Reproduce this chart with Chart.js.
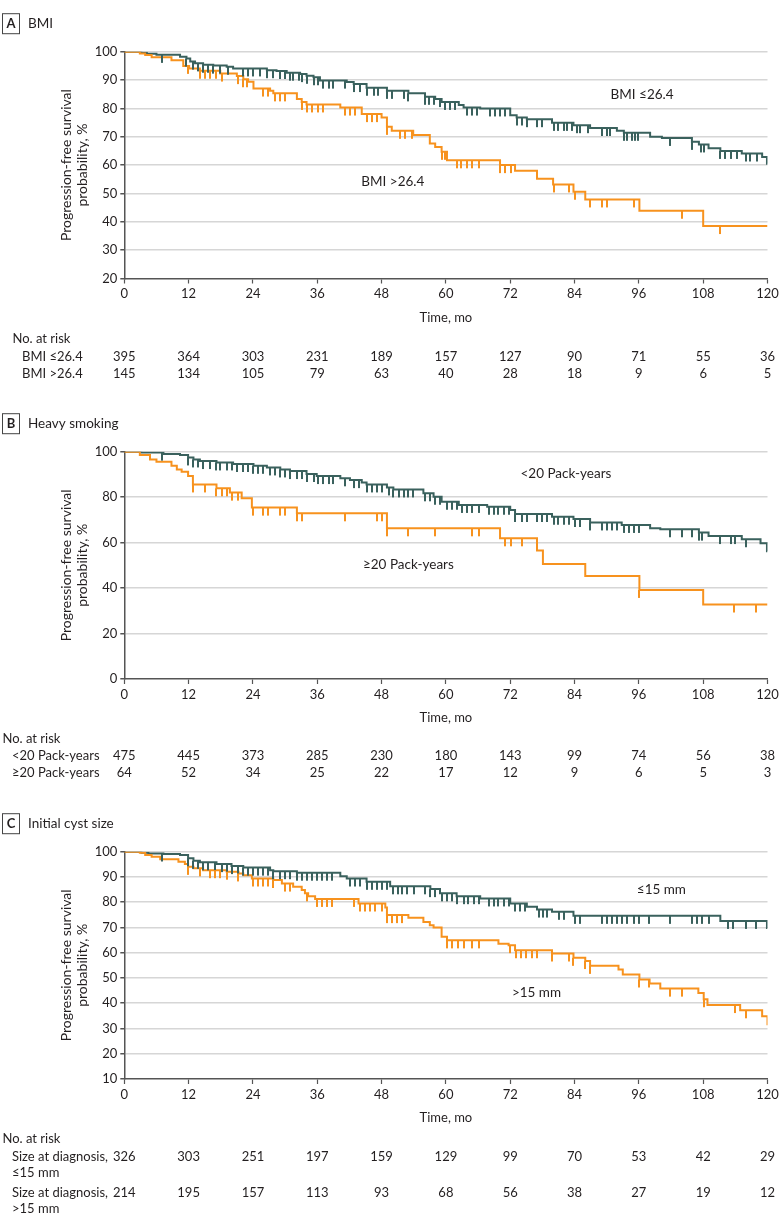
<!DOCTYPE html>
<html>
<head>
<meta charset="utf-8">
<title>Progression-free survival</title>
<script src="https://cdn.jsdelivr.net/npm/chart.js@4.4.1/dist/chart.umd.min.js"></script>
<style>
  body { margin: 0; background: #fff; }
  #wrap { position: relative; width: 783px; height: 1227px; }
  canvas { position: absolute; left: 0; }
</style>
</head>
<body>
<div id="wrap">
  <canvas id="chartA" width="783" height="395" style="top:0px"></canvas>
  <canvas id="chartB" width="783" height="390" style="top:400px"></canvas>
  <canvas id="chartC" width="783" height="437" style="top:790px"></canvas>
</div>
<script>
// months on the x axis, also the columns of the at-risk tables
var timeTicks = [0, 12, 24, 36, 48, 60, 72, 84, 96, 108, 120];

// ---- A: BMI ----  [month, survival %]
var bmiLowSteps = [[0,100],[3.2,99.6],[4.2,99.3],[6,98.9],[10.4,98.2],[11.6,97.6],[12.3,96.5],[13.2,95.9],[14.7,95.4],[16.6,95.1],[19.1,94.7],[20.3,94.1],[26.6,93.5],[28.4,93.2],[30.3,92.6],[32.8,92.1],[34,91.5],[35.3,91],[36.5,89.8],[41.5,89.3],[42.8,88.6],[45.2,87.3],[49,86.2],[53,85.3],[56.1,84.1],[58,83.3],[59.2,82.3],[62.4,81.2],[63.3,80.3],[66.4,80],[72,77.6],[73.2,76.8],[75.1,76.2],[79.8,74.9],[83.8,74.1],[86.9,73.1],[91.9,72.1],[93.2,71.4],[98.1,70],[100.3,69.6],[105.9,68.2],[107.2,67.3],[109,65.9],[111.2,65],[115.2,64.1],[119,62.9],[119.9,60.5],[120,60.5]];
var bmiHighSteps = [[0,100],[2.9,99.4],[3.9,98.8],[5.1,98],[8.8,97],[11,95],[12.1,94.1],[14.1,93.3],[17.9,92.3],[21,91.4],[22.2,90.3],[23.1,89.4],[24.1,87],[27.2,86.2],[27.8,85.3],[32.2,83.3],[33.1,82.3],[34,81.4],[40.3,80.3],[44.3,78],[48,76.8],[49,73.5],[49.9,72.1],[53.9,70.6],[57,67.6],[58,66.4],[59.2,64.7],[60.2,61.7],[70.1,60],[72.9,58],[77,55.2],[80,53.2],[83.8,50.6],[86,47.9],[96.1,43.9],[108,38.5],[120,38.5]];
var bmiLowCensor = [7.1,11.6,12.9,13.8,14.7,15.7,16.6,17.9,19.4,22.2,23.1,24.1,25.3,26.6,27.8,29.1,30,30.9,31.5,32.5,33.1,34,35.3,36.2,37.1,38.1,39,41.2,42.8,44,45.2,46.5,47.4,49,49.9,52.1,53,56.1,56.9,57.7,58.9,59.9,60.8,61.7,63.9,64.8,65.8,68.3,69.2,70.1,71.1,73.2,74.2,75.1,77,77.9,80.1,81,82,82.6,83.5,84.5,85.1,86.6,89.1,90.1,90.7,93.2,93.8,94.7,95.3,95.9,101.9,105.9,107.5,108.1,111.2,112.1,113.1,114.3,115.9,116.8,118.1];
var bmiHighCensor = [11.9,14.1,15.1,16,17.2,18.2,21.3,22.2,22.8,25.9,26.9,28.1,29.1,30,33.1,34,35,36.2,37.1,41.2,42.1,43.1,45.2,46.2,47.1,49,51.5,52.4,53.6,59.2,59.9,62,62.9,63.9,64.8,66.1,70.1,71.1,72.1,80.1,82.9,84,86.9,89.1,90.1,95.1,104.1,111.1];
var bmiLowRisk = [395, 364, 303, 231, 189, 157, 127, 90, 71, 55, 36];
var bmiHighRisk = [145, 134, 105, 79, 63, 40, 28, 18, 9, 6, 5];

// ---- B: Heavy smoking ----
var packLowSteps = [[0,100],[3.2,99.6],[7.3,99],[10.4,98.5],[11.9,97.5],[12.9,96.6],[14.1,95.9],[17.2,95.3],[20.3,94.6],[24.1,93.8],[26.6,93.1],[29.1,92.2],[30.9,91.5],[34,90.2],[35.9,89.3],[40.3,88.3],[42.1,87.5],[44.3,86.4],[45.2,85.6],[49,84.3],[50.2,83.4],[55.8,81.7],[57.7,80.2],[59.2,78],[62.4,76.6],[67.7,75.8],[72,74.4],[72.9,72.6],[79.8,71.4],[83.8,70.4],[86.9,68.9],[92.8,67.8],[98.1,66.3],[100,65.9],[107.2,64.4],[109,62.9],[115.2,61.5],[118.7,59.7],[119.9,56.2],[120,56.2]];
var packHighSteps = [[0,100],[2.9,98.5],[4.8,96.6],[6,95.6],[8.8,93.8],[9.8,92.2],[10.7,91.2],[11.9,89.3],[12.8,85.6],[17.2,83.9],[19.7,82],[21.9,79.5],[23.8,75.4],[32.2,72.9],[49,66.3],[70.1,61.9],[77,56.5],[78.1,50.6],[86,45.3],[96.1,39.2],[108,32.8],[120,32.8]];
var packLowCensor = [7.1,11.9,12.9,13.8,14.7,16,17.2,17.9,19.1,20,21,22.2,23.1,24.1,25,25.9,27.2,28.1,29.1,30,30.9,32.2,33.1,34,35.3,36.2,37.1,38.1,39,41.2,42.8,43.7,45.2,46.2,47.1,48,49.3,50.2,51.2,52.1,53,53.9,56.1,57,58,58.9,60.2,61.1,62,63,63.9,64.8,66.1,68,68.9,69.8,70.8,71.7,72.9,74.2,75.1,77,77.9,78.8,80.1,81,82,82.9,84.1,85.1,86.9,89.1,90.1,91,91.9,93.2,94.1,95,96,101.9,104.1,106,107.2,107.8,111.2,113.1,114,115.9];
var packHighCensor = [12.9,15.1,17.2,18.2,19.1,20,21.3,24.1,25.9,26.9,29.1,30,32.2,33.1,41.2,47.1,48,49,53,58,64.8,66.1,71.1,72.1,74.2,96.1,113.8,117.8];
var packLowRisk = [475, 445, 373, 285, 230, 180, 143, 99, 74, 56, 38];
var packHighRisk = [64, 52, 34, 25, 22, 17, 12, 9, 6, 5, 3];

// ---- C: Initial cyst size ----
var cystSmallSteps = [[0,100],[3.2,99.6],[4.5,99.3],[7.3,99.1],[10.4,98.7],[11.9,97.4],[12.9,96.4],[14.1,95.8],[17.2,95.1],[20,94.3],[22.2,93.7],[27.2,92.7],[27.8,92.3],[32.2,91.7],[40.3,90.3],[41.5,89.4],[45.2,88.1],[49.6,86.3],[57.1,85.2],[58.9,83.5],[62,82.4],[66.4,81.5],[72,79.5],[75.1,78.2],[77,77.1],[79.8,76.2],[83.8,74.6],[111.2,72.6],[119.9,69.8],[120,69.8]];
var cystLargeSteps = [[0,100],[2.9,99.6],[3.9,98.7],[5.1,98],[6.7,97],[10.1,96],[11.3,95.1],[11.9,94],[12.9,93.4],[14.7,92.7],[19.1,92.1],[21.3,91.4],[22.2,90.7],[23.8,89.4],[27.8,88.8],[29.4,87.4],[31.5,86.1],[33.1,84.8],[33.7,83.5],[34.3,82.4],[35.6,81.3],[43.7,79.5],[48.7,77.9],[49,74.9],[53,73.8],[55.8,72.2],[57,70.9],[57.7,70],[59.2,66.3],[60.2,64.9],[69.8,63.6],[71.7,63],[72.9,61],[79.8,59.7],[83.8,58],[86,56.7],[86.9,54.8],[92.2,53.4],[93,51.4],[96.1,49.4],[98,47.8],[100,45.8],[107.1,44.1],[108.1,41.6],[108.8,39.3],[114.9,37.2],[119,34.8],[120,31.3]];
var cystSmallCensor = [7.1,11.9,12.9,13.8,14.7,15.7,16.9,18.2,19.1,20,21.3,22.2,23.1,24.1,25,25.9,26.9,27.8,29.1,30,30.9,32.2,33.1,34,35,35.9,36.8,37.8,38.7,42.1,43.1,44,45.2,46.2,47.1,48,49,50.2,51.1,51.8,52.7,54,56.1,57.1,58,59.2,60.2,61.1,62,63.3,64.2,65.2,66.1,68,68.9,69.8,70.8,71.7,72.9,73.9,74.8,77.3,78.2,78.8,81.1,82,84.1,85,89.1,90.1,91,91.9,92.8,93.8,95,96,97.8,101.9,105.9,106.9,107.8,109.1,112.7,113.6,115.9,117.9];
var cystLargeCensor = [11.9,14.1,16,16.9,17.9,19.1,21.3,24.1,25,25.9,26.9,27.8,30,30.9,34,35.9,36.8,37.8,38.7,42.8,44,44.9,45.9,46.8,48,49,49.9,50.8,51.8,60.2,61.1,62.2,63.3,64.8,66.1,72,73.1,74,74.9,76,77,79.8,82.9,83.8,86,86.9,96.1,97.9,101.9,104,108.1,114,116];
var cystSmallRisk = [326, 303, 251, 197, 159, 129, 99, 70, 53, 42, 29];
var cystLargeRisk = [214, 195, 157, 113, 93, 68, 56, 38, 27, 19, 12];

var TEAL = '#3a615d';
var ORANGE = '#f7921e';
var INK = '#231f20';
var FONT = 'Lato, "Open Sans", sans-serif';

// survival value of a step curve at time t
function survAt(steps, t) {
  var v = steps[0][1];
  for (var i = 0; i < steps.length; i++) {
    if (steps[i][0] <= t) v = steps[i][1];
  }
  return v;
}

// censor tick hanging below the point
function tickMark(color) {
  var cv = document.createElement('canvas');
  cv.width = 2;
  cv.height = 18;
  var g = cv.getContext('2d');
  g.fillStyle = color;
  g.fillRect(0, 9, 2, 8);
  return cv;
}

var panelText = {
  id: 'panelText',
  afterDraw: function(chart, args, o) {
    var c = chart.ctx, area = chart.chartArea;
    var xs = chart.scales.x, ys = chart.scales.y;
    c.save();
    c.fillStyle = INK;
    c.textBaseline = 'middle';

    // panel letter + heading
    var hy = area.top - 28;
    c.strokeStyle = '#444';
    c.lineWidth = 1;
    c.strokeRect(2.5, hy - 10, 17, 20);
    c.font = 'bold 13px ' + FONT;
    c.textAlign = 'center';
    c.fillText(o.letter, 11, hy + 0.5);
    c.font = '13.5px ' + FONT;
    c.textAlign = 'left';
    c.fillText(o.title, 28, hy);

    // y axis title
    var cy = (area.top + area.bottom) / 2;
    c.save();
    c.translate(66, cy);
    c.rotate(-Math.PI / 2);
    c.textAlign = 'center';
    c.font = '14px ' + FONT;
    c.fillText('Progression-free survival', 0, 0);
    c.fillText('probability, %', 0, 16);
    c.restore();

    // curve labels
    c.font = '13.5px ' + FONT;
    c.textAlign = 'center';
    o.labels.forEach(function(l) {
      c.fillText(l.text, xs.getPixelForValue(l.t), ys.getPixelForValue(l.v));
    });

    // number at risk
    var by = area.bottom;
    c.font = '13px ' + FONT;
    c.textAlign = 'left';
    c.fillText('No. at risk', o.riskX, by + 60);
    o.rows.forEach(function(r) {
      c.textAlign = 'left';
      r.label.forEach(function(line, k) {
        c.fillText(line, o.riskX + 9.5, by + r.dy + k * 16);
      });
      c.textAlign = 'center';
      r.counts.forEach(function(n, k) {
        c.fillText(String(n), xs.getPixelForValue(timeTicks[k]), by + r.dy);
      });
    });
    c.restore();
  }
};

function makeKM(id, cfg) {
  var ctx = document.getElementById(id).getContext('2d');
  var canvasH = ctx.canvas.height;
  var plotH = cfg.plotH;
  var xAxisH = 52;
  var curve = function(steps, color) {
    return {
      data: steps.map(function(p) { return { x: p[0], y: p[1] }; }),
      borderColor: color, borderWidth: 2, stepped: 'before',
      pointRadius: 0, fill: false, order: 2
    };
  };
  var marks = function(times, steps, color) {
    return {
      data: times.map(function(t) { return { x: t, y: survAt(steps, t) }; }),
      showLine: false, pointStyle: tickMark(color), pointRadius: 3,
      borderColor: color, backgroundColor: color, order: 1
    };
  };
  return new Chart(ctx, {
    type: 'line',
    data: {
      datasets: [
        curve(cfg.highSteps, ORANGE),
        curve(cfg.lowSteps, TEAL),
        marks(cfg.highCensor, cfg.highSteps, ORANGE),
        marks(cfg.lowCensor, cfg.lowSteps, TEAL)
      ]
    },
    options: {
      responsive: false,
      animation: false,
      devicePixelRatio: 1,
      layout: { padding: { top: cfg.top, left: 0, right: 15.5, bottom: canvasH - cfg.top - plotH - xAxisH } },
      plugins: {
        legend: { display: false },
        tooltip: { enabled: false },
        panelText: cfg.text
      },
      scales: {
        x: {
          type: 'linear', min: 0, max: 120,
          afterBuildTicks: function(s) { s.ticks = timeTicks.map(function(v) { return { value: v }; }); },
          afterFit: function(s) { s.height = xAxisH; },
          grid: { drawOnChartArea: false, drawTicks: true, tickLength: 5, tickColor: '#555', tickWidth: 1.2 },
          border: { color: '#555', width: 1.5 },
          ticks: { color: INK, font: { family: FONT, size: 13 }, padding: 3, maxRotation: 0 },
          title: { display: true, text: 'Time, mo', color: INK, font: { family: FONT, size: 13 }, padding: { top: 0, bottom: 5 } }
        },
        y: {
          min: cfg.yMin, max: 100,
          ticks: { stepSize: cfg.yStep, color: INK, font: { family: FONT, size: 13 }, padding: 3 },
          afterFit: function(s) { s.width = 124.3; },
          grid: {
            color: function(c) { return c.tick && c.tick.value === cfg.yMin ? 'rgba(0,0,0,0)' : '#d6d6d6'; },
            lineWidth: 1.5, tickLength: 4, tickColor: '#555'
          },
          border: { color: '#555', width: 1.5 }
        }
      }
    },
    plugins: [panelText]
  });
}

var chartA = makeKM('chartA', {
  top: 51.7, plotH: 226.8, yMin: 20, yStep: 10,
  lowSteps: bmiLowSteps, highSteps: bmiHighSteps,
  lowCensor: bmiLowCensor, highCensor: bmiHighCensor,
  text: {
    letter: 'A', title: 'BMI', riskX: 12.5,
    labels: [{ text: 'BMI ≤26.4', t: 96.6, v: 84.7 }, { text: 'BMI >26.4', t: 50.1, v: 54.3 }],
    rows: [
      { label: ['BMI ≤26.4'], counts: bmiLowRisk, dy: 78.5 },
      { label: ['BMI >26.4'], counts: bmiHighRisk, dy: 95.5 }
    ]
  }
});

var chartB = makeKM('chartB', {
  top: 51.7, plotH: 227.3, yMin: 0, yStep: 20,
  lowSteps: packLowSteps, highSteps: packHighSteps,
  lowCensor: packLowCensor, highCensor: packHighCensor,
  text: {
    letter: 'B', title: 'Heavy smoking', riskX: 2.5,
    labels: [{ text: '<20 Pack-years', t: 82.4, v: 90.2 }, { text: '≥20 Pack-years', t: 53, v: 50.2 }],
    rows: [
      { label: ['<20 Pack-years'], counts: packLowRisk, dy: 77 },
      { label: ['≥20 Pack-years'], counts: packHighRisk, dy: 94 }
    ]
  }
});

var chartC = makeKM('chartC', {
  top: 61.7, plotH: 227.3, yMin: 10, yStep: 10,
  lowSteps: cystSmallSteps, highSteps: cystLargeSteps,
  lowCensor: cystSmallCensor, highCensor: cystLargeCensor,
  text: {
    letter: 'C', title: 'Initial cyst size', riskX: 2.5,
    labels: [{ text: '≤15 mm', t: 100.2, v: 84.8 }, { text: '>15 mm', t: 76.9, v: 44.3 }],
    rows: [
      { label: ['Size at diagnosis,', '≤15 mm'], counts: cystSmallRisk, dy: 78 },
      { label: ['Size at diagnosis,', '>15 mm'], counts: cystLargeRisk, dy: 114 }
    ]
  }
});
</script>
</body>
</html>
